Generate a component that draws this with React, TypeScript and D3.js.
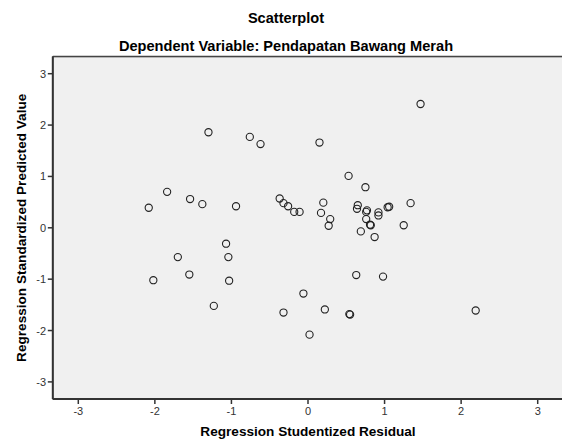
import React from "react";
import * as d3 from "d3";

const residuals = [
  -1.30, -0.76, -0.62, -1.84, -2.08, -1.54, -1.38, -0.94, -0.37, -0.32, -0.26, -0.18, -0.11,
  0.15, 0.53, 0.75, 0.20, 0.17, 0.29, 0.27, 0.65, 0.64, 0.77, 0.76, 0.76, 0.81, 0.82, 0.69,
  0.87, 0.92, 0.92, 1.04, 1.06, 1.34, 1.25, 1.47, -1.07, -1.70, -1.04, -1.55, -2.02, -1.03,
  -1.23, -0.32, 0.63, 0.98, -0.06, 0.22, 0.54, 0.55, 2.19, 0.02,
];
const predicted = [
  1.86, 1.77, 1.63, 0.70, 0.39, 0.56, 0.46, 0.42, 0.57, 0.48, 0.42, 0.31, 0.31,
  1.66, 1.01, 0.79, 0.49, 0.29, 0.17, 0.04, 0.44, 0.37, 0.34, 0.31, 0.17, 0.06, 0.05, -0.07,
  -0.18, 0.30, 0.24, 0.40, 0.41, 0.48, 0.05, 2.41, -0.31, -0.57, -0.57, -0.91, -1.02, -1.03,
  -1.52, -1.65, -0.92, -0.95, -1.28, -1.59, -1.68, -1.69, -1.61, -2.08,
];
const xTicks = [-3, -2, -1, 0, 1, 2, 3];
const yTicks = [-3, -2, -1, 0, 1, 2, 3];
const title = "Scatterplot";
const subtitle = "Dependent Variable: Pendapatan Bawang Merah";
const xTitle = "Regression Studentized Residual";
const yTitle = "Regression Standardized Predicted Value";

export default function App() {
  const W = 562, H = 441;
  const x = d3.scaleLinear().domain([-3.333, 3.333]).range([52.8, 563.2]);
  const y = d3.scaleLinear().domain([-3.333, 3.333]).range([399, 56.6]);
  const font = "'Liberation Sans', Arial, sans-serif";
  const [x0, x1] = x.range();
  const [y0, y1] = y.range();
  return (
    <svg width={W} height={H} style={{ position: "absolute", left: 0, top: 0, background: "#fff" }} fontFamily={font}>
      <text x={286} y={23} textAnchor="middle" fontSize={14.6} fontWeight="bold" fill="#000">{title}</text>
      <text x={286} y={51} textAnchor="middle" fontSize={14.6} fontWeight="bold" fill="#000">{subtitle}</text>
      <rect x={x0} y={y1} width={x1 - x0} height={y0 - y1} fill="#F0F0F0" stroke="#444" strokeWidth={1} />
      <line x1={x0} x2={x1} y1={y1} y2={y1} stroke="#444" strokeWidth={1.5} />
      <line x1={x0} x2={x0} y1={y1} y2={y0} stroke="#333" strokeWidth={2} />
      <line x1={x0} x2={x1} y1={y0} y2={y0} stroke="#333" strokeWidth={2} />
      {xTicks.map((t) => (
        <g key={"x" + t}>
          <line x1={x(t)} x2={x(t)} y1={y0} y2={y0 + 5} stroke="#333" strokeWidth={1.5} />
          <text x={x(t)} y={415} textAnchor="middle" fontSize={11} fill="#333">{t}</text>
        </g>
      ))}
      {yTicks.map((t) => (
        <g key={"y" + t}>
          <line x1={x0 - 5} x2={x0} y1={y(t)} y2={y(t)} stroke="#333" strokeWidth={1.5} />
          <text x={46} y={y(t) + 4} textAnchor="end" fontSize={11} fill="#333">{t}</text>
        </g>
      ))}
      <text x={308} y={436} textAnchor="middle" fontSize={13.6} fontWeight="bold" fill="#000">{xTitle}</text>
      <text transform={`translate(26,${y(0)}) rotate(-90)`} textAnchor="middle" fontSize={13.6} fontWeight="bold" fill="#000">{yTitle}</text>
      {residuals.map((r, i) => (
        <circle key={i} cx={x(r)} cy={y(predicted[i])} r={3.6} fill="none" stroke="#222" strokeWidth={1.1} />
      ))}
    </svg>
  );
}
